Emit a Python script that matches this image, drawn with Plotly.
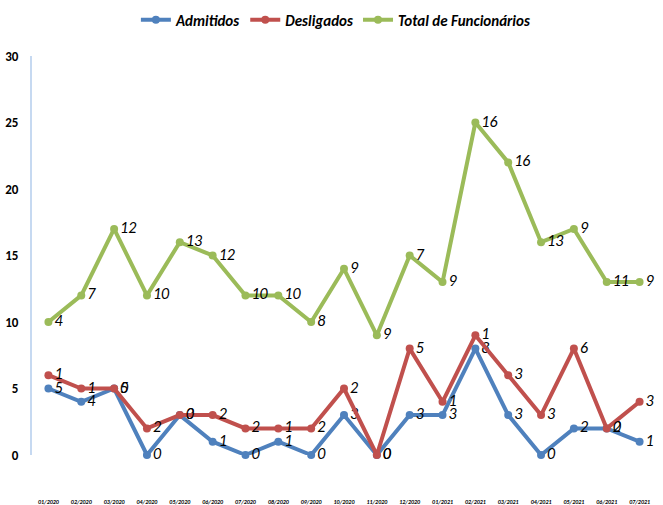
import plotly.graph_objects as go

months = ["01/2020", "02/2020", "03/2020", "04/2020", "05/2020", "06/2020", "07/2020",
          "08/2020", "09/2020", "10/2020", "11/2020", "12/2020", "01/2021", "02/2021",
          "03/2021", "04/2021", "05/2021", "06/2021", "07/2021"]

admitidos = [5, 4, 5, 0, 3, 1, 0, 1, 0, 3, 0, 3, 3, 8, 3, 0, 2, 2, 1]
admitidos_labels = ["5", "4", "5", "0", "3", "1", "0", "1", "0", "3", "0", "3", "3", "8", "3", "0", "2", "2", "1"]

desligados = [6, 5, 5, 2, 3, 3, 2, 2, 2, 5, 0, 8, 4, 9, 6, 3, 8, 2, 4]
desligados_labels = ["1", "1", "0", "2", "0", "2", "2", "1", "2", "2", "0", "5", "1", "1", "3", "3", "6", "0", "3"]

total = [10, 12, 17, 12, 16, 15, 12, 12, 10, 14, 9, 15, 13, 25, 22, 16, 17, 13, 13]
total_labels = ["4", "7", "12", "10", "13", "12", "10", "10", "8", "9", "9", "7", "9", "16", "16", "13", "9", "11", "9"]

FONT = "Carlito, Calibri, 'Liberation Sans Narrow', 'Arial Narrow', 'Liberation Sans', sans-serif"

series = [
    ("Admitidos", admitidos, admitidos_labels, "#4f81bd"),
    ("Desligados", desligados, desligados_labels, "#c0504d"),
    ("Total de Funcionários", total, total_labels, "#9bbb59"),
]

fig = go.Figure()
for name, vals, labels, color in series:
    fig.add_trace(go.Scatter(
        x=months, y=vals, name=name, mode="lines+markers+text",
        text=labels, textposition="middle right",
        textfont=dict(family=FONT, size=16, color="black", style="italic"),
        line=dict(color=color, width=4),
        marker=dict(color=color, size=8),
        cliponaxis=False,
    ))

fig.update_layout(
    width=663, height=505,
    margin=dict(l=32, r=7, t=56, b=50, autoexpand=False),
    paper_bgcolor="white", plot_bgcolor="white",
    font=dict(family=FONT, color="black"),
    showlegend=True,
    legend=dict(orientation="h", x=0.487, xanchor="center", y=1.09, yanchor="middle",
                font=dict(family=FONT, size=15, color="black", weight="bold", style="italic"),
                itemwidth=30),
    xaxis=dict(type="category", range=[-0.5, 18.5], showgrid=False, showline=False,
               zeroline=False, ticks="", ticklabelstandoff=42, automargin=False,
               tickfont=dict(family=FONT, size=6, color="black", weight="bold", style="italic")),
    yaxis=dict(range=[0, 30], dtick=5, showgrid=False, zeroline=False,
               showline=True, linecolor="#c6d9f1", linewidth=2, automargin=False,
               ticks="", ticklabelstandoff=9,
               tickfont=dict(family=FONT, size=13, color="black", weight="bold")),
)

fig.write_html("out.html",
               config={"displayModeBar": False},
               post_script="document.body.style.margin='0';document.body.style.overflow='hidden';")
